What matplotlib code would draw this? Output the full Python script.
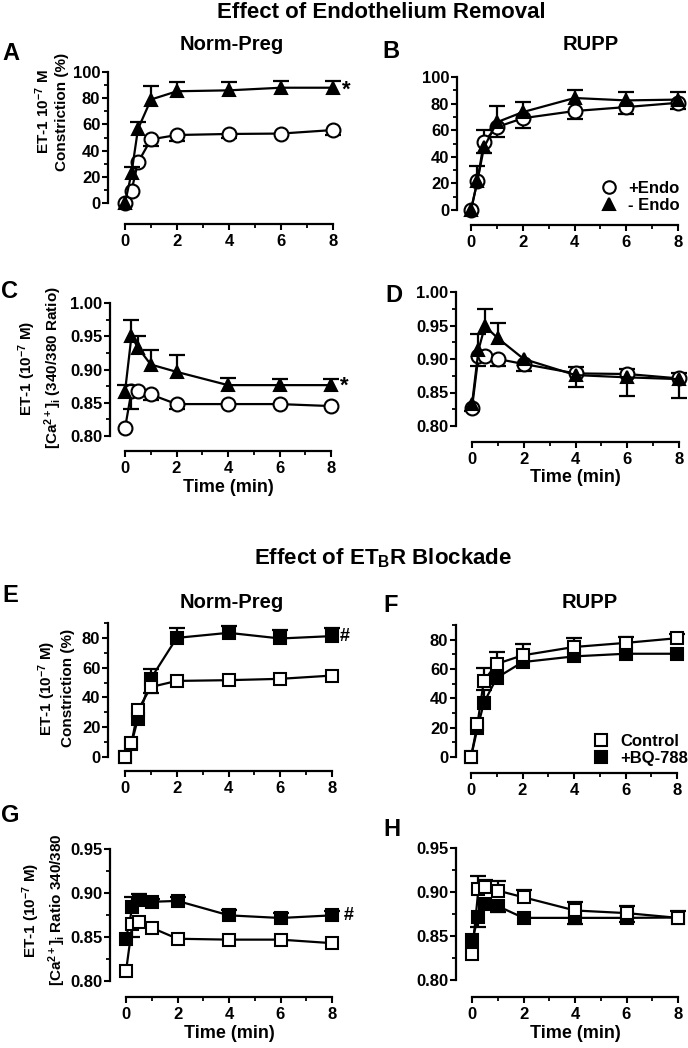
import numpy as np
import matplotlib.pyplot as plt
from matplotlib.lines import Line2D
from matplotlib.ticker import MultipleLocator, FormatStrFormatter

plt.rcParams['font.family'] = ['Liberation Sans', 'DejaVu Sans']
plt.rcParams['font.weight'] = 'bold'
plt.rcParams['mathtext.fontset'] = 'custom'
plt.rcParams['mathtext.rm'] = 'Liberation Sans:bold'
plt.rcParams['mathtext.bf'] = 'Liberation Sans:bold'
plt.rcParams['mathtext.it'] = 'Liberation Sans:bold'
plt.rcParams['mathtext.default'] = 'bf'

# time points (min)
times = [0, 0.25, 0.5, 1, 2, 4, 6, 8]

# A: Norm-Preg constriction (%)
a_endo = [0, 9.4, 31, 48.6, 51.9, 52.7, 53, 55.7]
a_endo_up = [0, 0, 0, 0, 0, 0, 0, 0]
a_endo_dn = [0, 0, 0, 5, 4.5, 3.3, 0, 3.5]
a_noendo = [0, 22.8, 56.5, 79, 85.3, 86, 88, 88]
a_noendo_up = [0, 5, 5, 10, 7, 6, 5.5, 5.5]
a_noendo_dn = [0, 0, 0, 0, 0, 0, 0, 0]

# B: RUPP constriction (%)
b_endo = [0, 22, 51.5, 62.3, 69, 74.4, 77.4, 80.6]
b_endo_up = [0, 0, 8.5, 0, 0, 0, 0, 0]
b_endo_dn = [0, 0, 0, 7.5, 7.5, 6, 5.5, 5]
b_noendo = [0, 22, 47, 66, 73.6, 84.2, 82.4, 83]
b_noendo_up = [0, 11, 0, 12.5, 7.5, 6, 6, 5.5]
b_noendo_dn = [0, 0, 4.5, 0, 0, 0, 0, 0]

# C: Norm-Preg [Ca2+]i ratio
c_endo = [0.8115, 0.867, 0.8675, 0.8625, 0.848, 0.848, 0.848, 0.845]
c_endo_up = [0, 0, 0, 0, 0, 0, 0, 0]
c_endo_dn = [0, 0.027, 0, 0.008, 0.007, 0, 0, 0]
c_noendo = [0.8665, 0.950, 0.933, 0.9075, 0.8965, 0.8765, 0.8765, 0.8765]
c_noendo_up = [0.010, 0.024, 0.017, 0.0225, 0.026, 0.010, 0.0085, 0.009]
c_noendo_dn = [0, 0, 0, 0, 0, 0, 0, 0]

# D: RUPP [Ca2+]i ratio
d_endo = [0.827, 0.905, 0.905, 0.900, 0.8925, 0.8785, 0.8776, 0.871]
d_endo_up = [0, 0, 0, 0, 0, 0.009, 0.007, 0.0075]
d_endo_dn = [0.004, 0.015, 0.008, 0.010, 0.010, 0, 0, 0]
d_noendo = [0.8325, 0.9135, 0.949, 0.931, 0.900, 0.876, 0.8726, 0.870]
d_noendo_up = [0, 0.0235, 0.025, 0.023, 0, 0, 0, 0]
d_noendo_dn = [0, 0, 0, 0, 0, 0.018, 0.028, 0.028]

# E: Norm-Preg constriction, ETB blockade
e_ctrl = [0, 9.3, 31.4, 47, 51.1, 51.6, 52.5, 54.7]
e_ctrl_up = [0, 0, 0, 0, 0, 0, 0, 0]
e_ctrl_dn = [0, 0, 0, 4, 0, 0, 0, 0]
e_bq = [0, 9, 25.8, 52.7, 80, 83.4, 79.6, 81.2]
e_bq_up = [0, 0, 0, 6.7, 6.8, 4.7, 6, 5.6]
e_bq_dn = [0, 0, 0, 0, 0, 0, 0, 0]

# F: RUPP constriction, ETB blockade
f_ctrl = [0, 22.4, 52, 63.5, 69.3, 75, 77.8, 81]
f_ctrl_up = [0, 0, 9, 8, 7.8, 5.8, 4.2, 3]
f_ctrl_dn = [0, 0, 0, 0, 0, 0, 0, 0]
f_bq = [0, 19.6, 37, 54, 64.7, 68.6, 70.4, 70.4]
f_bq_up = [0, 0, 8.5, 0, 0, 0, 0, 0]
f_bq_dn = [0, 0, 0, 0, 0, 0, 0, 0]

# G: Norm-Preg [Ca2+]i, ETB blockade
g_ctrl = [0.811, 0.865, 0.867, 0.8605, 0.848, 0.847, 0.847, 0.843]
g_ctrl_up = [0, 0, 0, 0, 0, 0, 0, 0]
g_ctrl_dn = [0, 0.015, 0, 0, 0, 0, 0, 0]
g_bq = [0.848, 0.884, 0.8917, 0.890, 0.891, 0.8746, 0.8716, 0.8746]
g_bq_up = [0, 0.0115, 0.0073, 0.003, 0.0045, 0.0064, 0.006, 0.0054]
g_bq_dn = [0, 0, 0, 0, 0, 0, 0, 0]

# H: RUPP [Ca2+]i, ETB blockade
h_ctrl = [0.829, 0.9035, 0.906, 0.9016, 0.894, 0.879, 0.876, 0.8706]
h_ctrl_up = [0, 0.015, 0.008, 0.0104, 0.008, 0.0095, 0.008, 0.0074]
h_ctrl_dn = [0, 0, 0, 0, 0, 0, 0, 0]
h_bq = [0.8453, 0.8718, 0.8858, 0.884, 0.8706, 0.8706, 0.8706, 0.871]
h_bq_up = [0, 0, 0, 0, 0, 0, 0, 0]
h_bq_dn = [0, 0.012, 0, 0.007, 0, 0.0066, 0.005, 0]

W, H = 688, 1048
fig = plt.figure(figsize=(W / 100, H / 100), dpi=100)
PT = 72 / 100  # points per pixel


def fpos(x, y):
    return x / W, 1 - y / H


def make_axes(x0, x1, y0, y1, ylim, ystep, fmt, left_off, bottom_off, xlabel=False):
    ax = fig.add_axes([x0 / W, 1 - y1 / H, (x1 - x0) / W, (y1 - y0) / H])
    ax.set_xlim(0, 8)
    ax.set_ylim(*ylim)
    ax.patch.set_alpha(0)
    for s in ['top', 'right']:
        ax.spines[s].set_visible(False)
    ax.spines['left'].set_position(('outward', left_off * PT))
    ax.spines['bottom'].set_position(('outward', bottom_off * PT))
    ax.spines['left'].set_bounds(*ylim)
    ax.spines['bottom'].set_bounds(0, 8)
    for s in ['left', 'bottom']:
        ax.spines[s].set_linewidth(1.6)
    ax.xaxis.set_major_locator(MultipleLocator(2))
    ax.xaxis.set_minor_locator(MultipleLocator(1))
    ax.yaxis.set_major_locator(MultipleLocator(ystep))
    ax.yaxis.set_minor_locator(MultipleLocator(ystep / 2))
    ax.yaxis.set_major_formatter(FormatStrFormatter(fmt))
    ax.tick_params(which='major', direction='out', length=4, width=1.5,
                   labelsize=12, pad=1.5)
    ax.tick_params(which='minor', direction='out', length=3, width=1.3)
    ax.tick_params(axis='x', which='major', pad=3)
    if xlabel:
        ax.set_xlabel('Time (min)', fontsize=13, fontweight='bold', labelpad=2)
    return ax


def draw_series(ax, y, up, dn, marker, face, ms, z):
    t = np.array(times)
    y = np.array(y)
    up = np.array(up)
    dn = np.array(dn)
    for err, sign in [(up, 1), (dn, -1)]:
        m = err > 0
        if m.any():
            ax.vlines(t[m], y[m], y[m] + sign * err[m], color='k', lw=1.6,
                      zorder=z - 0.5, clip_on=False)
            ax.plot(t[m], y[m] + sign * err[m], ls='none', marker='_', ms=11,
                    mew=1.6, color='k', zorder=z - 0.5, clip_on=False)
    ax.plot(t, y, color='k', lw=1.6, marker=marker, ms=ms, mfc=face, mec='k',
            mew=1.5, zorder=z, clip_on=False)


# top block: endothelium removal
axA = make_axes(125, 333, 72, 203, (0, 100), 20, '%d', 17, 21)
draw_series(axA, a_endo, a_endo_up, a_endo_dn, 'o', 'white', 10, 3)
draw_series(axA, a_noendo, a_noendo_up, a_noendo_dn, '^', 'black', 9, 5)
axA.text(8.5, 86, '*', fontsize=16, ha='center', va='center', clip_on=False)

axB = make_axes(471, 678, 77, 210, (0, 100), 20, '%d', 14, 15)
draw_series(axB, b_endo, b_endo_up, b_endo_dn, 'o', 'white', 10, 3)
draw_series(axB, b_noendo, b_noendo_up, b_noendo_dn, '^', 'black', 9, 5)
handles = [Line2D([], [], ls='none', marker='o', ms=9, mfc='white', mec='k', mew=1.5),
           Line2D([], [], ls='none', marker='^', ms=8, mfc='black', mec='k', mew=1.5)]
axB.legend(handles, ['+Endo', '- Endo'], loc='lower right', frameon=False,
           bbox_to_anchor=(680 / W, 1 - 213 / H), bbox_transform=fig.transFigure,
           fontsize=12, handlelength=0.9, handletextpad=0.7, labelspacing=0.12,
           borderpad=0, borderaxespad=0)

axC = make_axes(125, 331, 303, 436, (0.80, 1.00), 0.05, '%.2f', 15, 15, xlabel=True)
draw_series(axC, c_endo, c_endo_up, c_endo_dn, 'o', 'white', 10, 3)
draw_series(axC, c_noendo, c_noendo_up, c_noendo_dn, '^', 'black', 9, 5)
axC.text(8.5, 0.875, '*', fontsize=16, ha='center', va='center', clip_on=False)

axD = make_axes(472, 679, 292, 426, (0.80, 1.00), 0.05, '%.2f', 16, 16, xlabel=True)
draw_series(axD, d_endo, d_endo_up, d_endo_dn, 'o', 'white', 10, 3)
draw_series(axD, d_noendo, d_noendo_up, d_noendo_dn, '^', 'black', 9, 5)

# bottom block: ETB receptor blockade
axE = make_axes(125, 332, 623, 757, (0, 90), 20, '%d', 17, 14)
axE.yaxis.set_major_locator(MultipleLocator(20))
axE.yaxis.set_minor_locator(MultipleLocator(10))
draw_series(axE, e_bq, e_bq_up, e_bq_dn, 's', 'black', 8.5, 3)
draw_series(axE, e_ctrl, e_ctrl_up, e_ctrl_dn, 's', 'white', 8.5, 5)
axE.text(8.5, 81, '#', fontsize=13, ha='center', va='center', clip_on=False)

axF = make_axes(471, 677, 625, 757, (0, 90), 20, '%d', 15, 16)
draw_series(axF, f_bq, f_bq_up, f_bq_dn, 's', 'black', 8.5, 3)
draw_series(axF, f_ctrl, f_ctrl_up, f_ctrl_dn, 's', 'white', 8.5, 5)
handles = [Line2D([], [], ls='none', marker='s', ms=8.5, mfc='white', mec='k', mew=1.5),
           Line2D([], [], ls='none', marker='s', ms=8.5, mfc='black', mec='k', mew=1.5)]
axF.legend(handles, ['Control', '+BQ-788'], loc='lower right', frameon=False,
           bbox_to_anchor=(688 / W, 1 - 766 / H), bbox_transform=fig.transFigure,
           fontsize=12, handlelength=0.9, handletextpad=0.7, labelspacing=0.15,
           borderpad=0, borderaxespad=0)

axG = make_axes(126, 332, 849, 981, (0.80, 0.95), 0.05, '%.2f', 16, 16, xlabel=True)
draw_series(axG, g_bq, g_bq_up, g_bq_dn, 's', 'black', 8.5, 3)
draw_series(axG, g_ctrl, g_ctrl_up, g_ctrl_dn, 's', 'white', 8.5, 5)
axG.text(8.65, 0.8746, '#', fontsize=13, ha='center', va='center', clip_on=False)

axH = make_axes(472, 678, 848, 980, (0.80, 0.95), 0.05, '%.2f', 16, 17, xlabel=True)
draw_series(axH, h_bq, h_bq_up, h_bq_dn, 's', 'black', 8.5, 3)
draw_series(axH, h_ctrl, h_ctrl_up, h_ctrl_dn, 's', 'white', 8.5, 5)

# titles
fig.text(*fpos(381, 13), 'Effect of Endothelium Removal', fontsize=16, ha='center', va='center')
fig.text(*fpos(232, 44), 'Norm-Preg', fontsize=14.5, ha='center', va='center')
fig.text(*fpos(591, 44), 'RUPP', fontsize=14.5, ha='center', va='center')
fig.text(*fpos(383, 558), 'Effect of ET$_{B}$R Blockade', fontsize=16, ha='center', va='center')
fig.text(*fpos(232, 602), 'Norm-Preg', fontsize=14.5, ha='center', va='center')
fig.text(*fpos(590, 603), 'RUPP', fontsize=14.5, ha='center', va='center')

# panel letters
letters = ['A', 'B', 'C', 'D', 'E', 'F', 'G', 'H']
letter_xy = [(11, 53), (391, 52), (10, 292), (394, 295),
             (10, 595), (391, 605), (10, 815), (392, 830)]
for lab, (x, y) in zip(letters, letter_xy):
    fig.text(*fpos(x, y), lab, fontsize=17, ha='center', va='center')

# y-axis labels
fig.text(*fpos(51, 112), 'ET-1 10$^{-7}$ M\nConstriction (%)', rotation=90,
         fontsize=11, ha='center', va='center', multialignment='center', linespacing=1.25)
fig.text(*fpos(40, 368), 'ET-1 (10$^{-7}$ M)\n[Ca$^{2+}$]$_{i}$ (340/380 Ratio)', rotation=90,
         fontsize=11, ha='center', va='center', multialignment='center', linespacing=1.25)
fig.text(*fpos(56, 688), 'ET-1 (10$^{-7}$ M)\nConstriction (%)', rotation=90,
         fontsize=11, ha='center', va='center', multialignment='center', linespacing=1.25)
fig.text(*fpos(44, 910), 'ET-1 (10$^{-7}$ M)\n[Ca$^{2+}$]$_{i}$ Ratio 340/380', rotation=90,
         fontsize=11, ha='center', va='center', multialignment='center', linespacing=1.25)

fig.savefig('out.png', dpi=100)
